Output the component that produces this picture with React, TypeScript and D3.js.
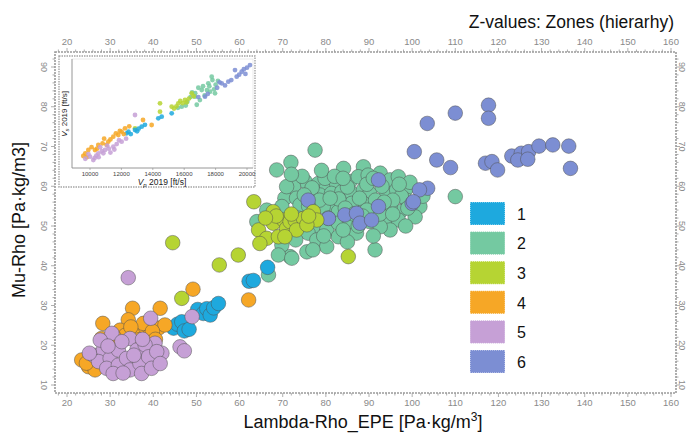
import React from "react";
import * as d3 from "d3";

type P = [number, number];

const zoneNames = ["1", "2", "3", "4", "5", "6"];
const zoneColors = ["#1ea9de", "#74c9a1", "#b6d433", "#f6a726", "#c6a0d6", "#7c8ed3"];

const xTicks = [20, 30, 40, 50, 60, 70, 80, 90, 100, 110, 120, 130, 140, 150, 160];
const yTicks = [10, 20, 30, 40, 50, 60, 70, 80, 90];
const insetXTicks = [10000, 12000, 14000, 16000, 18000, 20000];

const zone1: P[] = [[44.7,24.3],[45.6,25.3],[46.6,25.9],[47.2,23.6],[48.3,24.0],[50.3,29.0],[51.6,28.0],[52.4,29.2],[53.2,27.6],[54.0,29.4],[55.1,30.5],[62.2,36.1],[63.2,36.3],[66.5,39.6]];
const zone2: P[] = [[77.5,69.1],[71.9,66.0],[68.6,64.1],[84.1,64.5],[88.7,64.9],[75.2,61.2],[72.5,59.9],[78.3,60.7],[80.2,59.9],[82.5,60.7],[85.6,61.2],[87.5,62.4],[89.8,62.8],[92.6,63.3],[94.9,61.6],[96.8,62.4],[98.7,59.5],[70.5,57],[73.2,57],[76.3,58.2],[78.6,57.8],[81.3,58.2],[83.7,58.6],[86,58.2],[88.7,59.1],[90.2,58.2],[94.1,58.2],[96.4,59.1],[98.7,56.5],[101.8,54.9],[100.7,52.3],[97.2,53.6],[94.9,54.9],[88.7,55.7],[86,55.7],[81.7,55.3],[79.4,54.9],[74,55.3],[82.9,53.6],[78.3,49.8],[80.2,49],[82.9,50.7],[85.6,51.1],[90.2,51.1],[94.1,51.1],[96.8,51.5],[94.9,49],[92.6,49.8],[75.9,48.2],[77.9,46.5],[80.2,44.8],[82.9,47.3],[87.1,48.2],[91.4,44],[71.7,42.3],[69.8,45.2],[70.9,59.9],[66.3,54],[69.8,54.9],[64,51.1],[69,42.7],[72.1,41.9],[75.6,43.5],[66.7,37.7],[110,57.4],[74.5,62.5],[76.8,59.6],[79.8,62.0],[83.0,56.8],[85.0,59.8],[87.8,57.0],[89.5,60.5],[91.5,56.5],[93.0,60.0],[92.5,53.0],[89.5,54.0],[84.5,54.5],[77.0,52.5],[80.5,52.0],[87.5,50.0],[91.0,47.5],[85.0,46.0],[97.5,57.5],[99.5,61.0],[75.0,57.8],[72.0,63.0],[79.0,64.0],[95.5,56.5],[98.5,50.0],[78.5,56.5],[82.0,62.5],[73.5,52.0],[76.0,55.0],[81.0,57.0],[84.0,62.0],[86.5,53.0],[93.5,56.0],[95.5,53.0],[99.0,54.5],[102.5,57.5],[91.0,62.0],[97.0,60.5],[88.5,52.5],[79.5,47.5],[84.0,49.0],[73.0,46.5],[77.0,44.0]];
const zone3: P[] = [[44.5,45.8],[55.3,40.2],[59.7,42.7],[46.6,31.8],[63.3,56.1],[67.8,53.6],[67.8,50.7],[70.2,51.5],[64.4,49],[66.3,46.9],[69,47.3],[64.7,45.6],[70.9,49.4],[71.7,51.1],[72.9,51.4],[74.8,51.9],[77.1,53.6],[77.9,51.5],[73.2,49],[75.6,50.3],[70.5,47.3],[85.2,42.3],[68.5,52.5],[66.0,52.0],[76.0,52.5],[72.0,53.0]];
const zone4: P[] = [[49.2,34.1],[62.1,31.4],[35.2,29.3],[41.6,29.3],[28.3,25.5],[34.2,26.4],[32.3,23.8],[36.5,23.8],[38.9,22.2],[41.2,24.3],[42.7,25.1],[28,21.7],[37.7,25.5],[30,20.9],[23.4,16.3],[25,14.6],[26.5,13.8],[35.4,22.6],[33.5,22.5],[39.8,23.5],[31.0,22.0],[36.8,21.4],[40.5,21.5],[24.5,15.5],[34.8,24.6]];
const zone5: P[] = [[34.2,37.0],[49,27.2],[39.4,26.8],[30.4,23],[34.6,21.7],[40.4,20.5],[42,18],[46.2,19.6],[47.2,18.6],[26.1,17.5],[28.4,18.8],[27.3,15.9],[30,16.7],[31.9,18.8],[29.2,14.2],[31.9,15],[33.8,16.7],[36.2,18.8],[38.1,20.1],[34.6,13.8],[36.9,15.4],[38.9,17.1],[40.8,18.4],[37.3,12.9],[39.6,14.2],[41.6,15.4],[32.7,20.9],[30.7,12.9],[27.7,21.3],[33.0,13.0],[35.5,17.5],[37.5,21.5],[29.5,19.8],[25.2,18.0]];
const zone6: P[] = [[103.5,75.8],[110,78.4],[117.7,80.4],[117.7,77.1],[100.5,68.7],[105.7,66.6],[108.9,64.7],[117,65.8],[118.5,66.2],[119.8,64.1],[123.1,67.6],[125.3,68.3],[124.5,66.6],[127,68.7],[126.8,66.8],[129.4,70.1],[132.6,70.4],[136.3,70.1],[136.7,64.5],[103.6,59.5],[101.7,59.1],[100,55.7],[92.2,61.6],[75.9,56.5],[80.6,51.9],[84.4,52.8],[87.1,53.2],[87.9,50.7],[90.6,51.5],[92.2,54.9],[100.3,56.1]];

// inset: Vp vs Vs (ft/s)
const inset1: P[] = [[12334,6246],[12866,6462],[13293,6676],[12600,6200],[13100,6550],[14350,7220],[14567,7326],[15204,7544],[13500,6800],[12450,6350],[13000,6380]];
const inset2: P[] = [[15841,7972],[16688,8620],[17115,9054],[17535,9488],[17752,9916],[17962,8840],[16200,8300],[16900,9200],[17300,8700],[17600,9300],[18000,9400],[16500,8900],[17000,8400],[15600,7900],[17800,9700],[16800,8100],[16400,8600],[17200,9300],[17450,9050],[16700,8850],[17900,9100],[16100,8050],[17650,8950],[18150,9650]];
const inset3: P[] = [[14459,8192],[14459,7648],[12866,6570],[15204,7972],[15624,8192],[16051,8406],[16478,8840],[15900,8200],[16300,8500],[15500,8000],[15750,8350],[16150,8250],[15350,7850],[16600,8650]];
const inset4: P[] = [[9573,4778],[9894,5166],[10318,5166],[10530,5490],[11166,5704],[11484,6028],[11803,6138],[12016,6352],[12229,6570],[13927,6786],[9700,4950],[10100,5350],[10800,5600],[11300,5850],[11650,6250],[12500,6700],[13376,7110],[10450,5250],[11050,5500],[11900,6400],[12150,6200],[9800,4700],[10900,5900]];
const inset5: P[] = [[10000,4732],[10530,4950],[10955,5166],[11484,5382],[12016,5704],[10212,4518],[12866,7434],[10400,4800],[10750,5100],[11200,5250],[11700,5550],[9900,4900],[10650,5350],[11300,5000],[12300,5900],[10300,4650],[10850,4950],[11100,5450],[11550,5200],[11850,5800],[10550,4700],[9700,4600]];
const inset6: P[] = [[18389,9488],[18809,9592],[19344,9916],[19662,10240],[20191,10674],[19236,10350],[17325,8620],[18100,9200],[19000,9700],[19900,10100],[20000,10500],[16900,8600],[17500,8800],[18600,9350],[19500,10050],[18250,9550],[19800,10400]];

const mainZones = [zone1, zone2, zone3, zone4, zone5, zone6];
const insetZones = [inset1, inset2, inset3, inset4, inset5, inset6];
const drawOrder = [1, 5, 2, 0, 3, 4];

export default function App() {
  const W = 688, H = 434;
  const fL = 55, fR = 676, fT = 52, fB = 393;
  const x = d3.scaleLinear().domain([20, 160]).range([67, 671]);
  const y = d3.scaleLinear().domain([10, 90]).range([385, 67]);
  const ix = d3.scaleLinear().domain([10000, 20000]).range([90, 247]);
  const iy = d3.scaleLinear().domain([4000, 11000]).range([168, 60]);
  const grey = "#9b9b9b";
  const font = "Liberation Sans, Arial, sans-serif";
  const minorX = d3.range(18, 162, 2);
  const minorY = d3.range(10, 94, 2);

  return (
    <svg width={W} height={H} style={{ position: "absolute", left: 0, top: 0, background: "#fff" }} fontFamily={font}>
      {/* title */}
      <text x={674} y={28} textAnchor="end" fontSize={17.5} fill="#111">Z-values: Zones (hierarhy)</text>

      {/* frame */}
      <rect x={fL} y={fT} width={fR - fL} height={fB - fT} fill="#fff" stroke={grey} strokeWidth={1.6} strokeDasharray="2,1" />
      {minorX.map((v) => (
        <g key={"mx" + v}>
          <line x1={x(v)} x2={x(v)} y1={fB} y2={fB + (v % 10 === 0 ? 4 : 2.5)} stroke={grey} strokeWidth={0.8} />
          <line x1={x(v)} x2={x(v)} y1={fT} y2={fT - (v % 10 === 0 ? 4 : 2.5)} stroke={grey} strokeWidth={0.8} />
        </g>
      ))}
      {minorY.map((v) => (
        <g key={"my" + v}>
          <line x1={fL} x2={fL - (v % 10 === 0 ? 4 : 2.5)} y1={y(v)} y2={y(v)} stroke={grey} strokeWidth={0.8} />
          <line x1={fR} x2={fR + (v % 10 === 0 ? 4 : 2.5)} y1={y(v)} y2={y(v)} stroke={grey} strokeWidth={0.8} />
        </g>
      ))}
      {xTicks.map((v) => (
        <g key={"xt" + v} fontSize={9.5} fill="#8a8a8a" textAnchor="middle">
          <text x={x(v)} y={406}>{v}</text>
          <text x={x(v)} y={45}>{v}</text>
        </g>
      ))}
      {yTicks.map((v) => (
        <g key={"yt" + v} fontSize={9} fill="#8a8a8a" textAnchor="middle">
          <text transform={`translate(44,${y(v)}) rotate(90)`} dy="0.35em">{v}</text>
          <text transform={`translate(682,${y(v)}) rotate(90)`} dy="0.3em">{v}</text>
        </g>
      ))}

      {/* points */}
      {drawOrder.map((z) => (
        <g key={"z" + z}>
          {mainZones[z].map((p, i) => (
            <circle key={i} cx={x(p[0])} cy={y(p[1])} r={7.3} fill={zoneColors[z]} stroke="rgba(80,80,80,0.55)" strokeWidth={0.9} />
          ))}
        </g>
      ))}

      {/* inset */}
      <rect x={59} y={56} width={196} height={131} fill="#fff" stroke="#a5a5a5" strokeWidth={1.4} strokeDasharray="1.5,1" />
      <rect x={72} y={59} width={181} height={109} fill="#fff" stroke="#dcdcdc" strokeWidth={0.6} />
      <line x1={72} x2={72} y1={59} y2={168} stroke="#8a8a8a" strokeWidth={0.8} />
      <line x1={72} x2={253} y1={168} y2={168} stroke="#8a8a8a" strokeWidth={0.8} />
      {insetXTicks.map((v) => (
        <g key={"it" + v}>
          <line x1={ix(v)} x2={ix(v)} y1={168} y2={170} stroke="#8a8a8a" strokeWidth={0.6} />
          <text x={ix(v)} y={176} fontSize={6} fill="#444" textAnchor="middle">{v}</text>
        </g>
      ))}
      <text x={162} y={185} fontSize={8.5} fill="#222" textAnchor="middle">
        <tspan fontStyle="italic">V</tspan><tspan fontStyle="italic" fontSize={6} dy={2}>p</tspan><tspan dy={-2}> 2019 [ft/s]</tspan>
      </text>
      <text transform="translate(67,114) rotate(-90)" fontSize={8} fill="#222" textAnchor="middle">
        <tspan fontStyle="italic">V</tspan><tspan fontStyle="italic" fontSize={6} dy={2}>s</tspan><tspan dy={-2}> 2019 [ft/s]</tspan>
      </text>
      {drawOrder.map((z) => (
        <g key={"iz" + z}>
          {insetZones[z].map((p, i) => (
            <circle key={i} cx={ix(p[0])} cy={iy(p[1])} r={2.4} fill={zoneColors[z]} fillOpacity={0.85} />
          ))}
        </g>
      ))}

      {/* legend */}
      {zoneNames.map((n, i) => (
        <g key={"lg" + n}>
          <rect x={470} y={202 + i * 29.6} width={35} height={23} fill={zoneColors[i]} stroke="#fff" strokeWidth={0.8} strokeDasharray="1,1" />
          <text x={517} y={214 + i * 29.6} dy="0.36em" fontSize={16} fill="#111">{n}</text>
        </g>
      ))}

      {/* axis titles */}
      <text x={363} y={428} textAnchor="middle" fontSize={18} fill="#111">
        Lambda-Rho_EPE [Pa·kg/m<tspan fontSize={12} dy={-7}>3</tspan><tspan dy={7}>]</tspan>
      </text>
      <text transform="translate(25,220) rotate(-90)" textAnchor="middle" fontSize={18} fill="#111">
        Mu-Rho [Pa·kg/m3]
      </text>
    </svg>
  );
}
